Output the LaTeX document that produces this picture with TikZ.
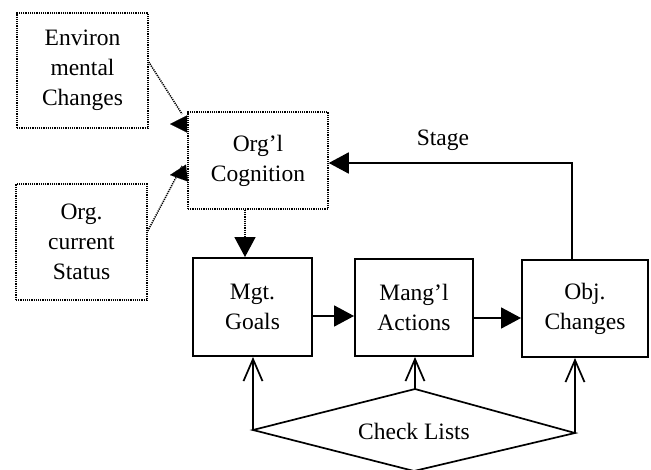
\documentclass[tikz,border=0pt]{standalone}
\usepackage{fontspec}
\setmainfont{Liberation Serif}
\usetikzlibrary{arrows.meta}
\begin{document}
\begin{tikzpicture}[x=1pt,y=-1pt,
  txt/.style={font=\fontsize{23.5}{30}\selectfont, align=center, inner sep=0pt},
  dotbox/.style={txt, draw, line width=1.5pt, dash pattern=on 1.2pt off 1.0pt},
  solidbox/.style={txt, draw, line width=1.9pt},
  dotline/.style={line width=1.5pt, dash pattern=on 1.2pt off 1.0pt},
  conn/.style={line width=1.7pt},
  tri/.style={-{Triangle[length=20pt,width=21pt]}},
  smalltri/.style={-{Triangle[length=17pt,width=17pt]}},
  barb/.style={line width=1.7pt, -{Straight Barb[length=22pt,width=19pt,line width=1.7pt]}}
]
\useasboundingbox (0,0) rectangle (651,469);
\clip (0,0) rectangle (651,469);

% boxes
\node[dotbox, minimum width=131pt, minimum height=115pt] (env) at (82.5,70.5) {Environ\\ mental\\ Changes};
\node[dotbox, minimum width=131pt, minimum height=116pt] (stat) at (81.5,242) {Org.\\ current\\ Status};
\node[dotbox, minimum width=140pt, minimum height=97pt] (cog) at (258,160.5) {Org'l\\ Cognition};
\node[solidbox, minimum width=119pt, minimum height=98pt] (goals) at (252.5,307) {Mgt.\\ Goals};
\node[solidbox, minimum width=118pt, minimum height=97pt] (act) at (414,307.5) {Mang'l\\ Actions};
\node[solidbox, minimum width=126pt, minimum height=97pt] (obj) at (585,308.5) {Obj.\\ Changes};

% diamond
\coordinate (chkL) at (253,430);
\coordinate (chkT) at (415,389);
\coordinate (chkR) at (575,433);
\coordinate (chkB) at (414,471);
\draw[conn, line join=miter] (chkL) -- (chkT) -- (chkR) -- (chkB) -- cycle;
\node[txt] (chk) at (414,431) {Check Lists};

% inputs to cognition
\coordinate (envEnd) at (182,114);
\coordinate (statEnd) at (182,166);
\draw[dotline] (env.east |- 0,62) -- (envEnd);
\draw[dotline] (stat.east |- 0,231) -- (statEnd);
\coordinate (t1) at (cog.west |- 0,124);
\coordinate (t1tip) at (170,124);
\draw[smalltri, line width=0.1pt] (t1) -- (t1tip);
\coordinate (t2) at (cog.west |- 0,173);
\coordinate (t2tip) at (170,175);
\draw[smalltri, line width=0.1pt] (t2) -- (t2tip);

% cognition -> goals
\draw[dotline, tri] (cog.south -| 245,0) -- (goals.north -| 245,0);

% main flow
\draw[conn, tri] (goals.east |- 0,316) -- (act.west |- 0,316);
\draw[conn, tri] (act.east |- 0,318) -- (obj.west |- 0,318);

% stage feedback
\coordinate (stg) at (572,163);
\draw[conn, tri] (obj.north -| stg) -- (stg) -- (cog.east |- stg);
\node[txt] (stagelbl) at (443,140) {Stage};

% check list arrows
\draw[barb] (chkL) -- (chkL |- goals.south);
\draw[barb] (chkT) -- (chkT |- act.south);
\draw[barb] (chkR) -- (chkR |- obj.south);
\end{tikzpicture}
\end{document}
